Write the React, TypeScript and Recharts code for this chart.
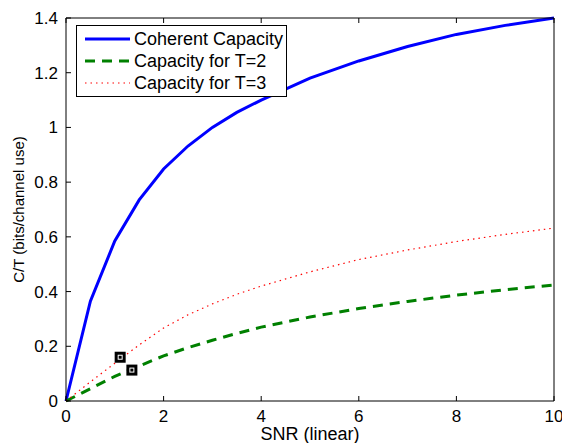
import { ComposedChart, Line, Scatter, XAxis, YAxis, Legend } from "recharts"

// SNR grid (linear) and the three capacity curves
const snr = [0, 0.5, 1, 1.5, 2, 2.5, 3, 3.5, 4, 5, 6, 7, 8, 9, 10]
const coherent = [0, 0.365, 0.585, 0.735, 0.848, 0.932, 1.0, 1.055, 1.1, 1.18, 1.243, 1.296, 1.34, 1.373, 1.4]
const capT2 = [0, 0.045, 0.09, 0.128, 0.165, 0.195, 0.222, 0.247, 0.27, 0.307, 0.338, 0.364, 0.387, 0.407, 0.424]
const capT3 = [0, 0.07, 0.138, 0.205, 0.267, 0.315, 0.355, 0.39, 0.42, 0.472, 0.517, 0.552, 0.583, 0.609, 0.632]

// the two little square markers near the origin
const markSnr = [1.11, 1.35]
const markValue = [0.16, 0.113]

const xTicks = [0, 2, 4, 6, 8, 10]
const yTicks = [0, 0.2, 0.4, 0.6, 0.8, 1, 1.2, 1.4]

const series = [
  { key: "coherent", name: "Coherent Capacity", color: "#0000ff", width: 3, dash: undefined },
  { key: "t2", name: "Capacity for T=2", color: "#008000", width: 3, dash: "10 7" },
  { key: "t3", name: "Capacity for T=3", color: "#ff0000", width: 1.2, dash: "1.5 4" },
]

const data = snr.map((s, i) => ({ snr: s, coherent: coherent[i], t2: capT2[i], t3: capT3[i] }))
const marks = markSnr.map((s, i) => ({ snr: s, mark: markValue[i] }))

const FONT = "'Liberation Sans', Arial, Helvetica, sans-serif"
const TICK = 5

// MATLAB style: tick marks point into the plot box
const BottomTick = ({ x, y, payload }: any) => (
  <g>
    <line x1={x} x2={x} y1={y} y2={y - TICK} stroke="#000" />
    <text x={x} y={y + 21} textAnchor="middle" fontSize={17} fontFamily={FONT} fill="#000">{payload.value}</text>
  </g>
)
const TopTick = ({ x, y }: any) => <line x1={x} x2={x} y1={y} y2={y + TICK} stroke="#000" />
const LeftTick = ({ x, y, payload }: any) => (
  <g>
    <line x1={x} x2={x + TICK} y1={y} y2={y} stroke="#000" />
    <text x={x - 8} y={y + 6} textAnchor="end" fontSize={17} fontFamily={FONT} fill="#000">{payload.value}</text>
  </g>
)
const RightTick = ({ x, y }: any) => <line x1={x} x2={x - TICK} y1={y} y2={y} stroke="#000" />

const SquareMark = ({ cx, cy }: any) => (
  <g>
    <rect x={cx - 5.5} y={cy - 5.5} width={11} height={11} fill="#000" />
    <rect x={cx - 2.5} y={cy - 2.5} width={5} height={5} fill="#fff" />
    <rect x={cx - 1.5} y={cy - 1.5} width={3} height={3} fill="#000" />
  </g>
)

const renderLegend = () => (
  <div style={{ border: "1px solid #000", background: "#fff", padding: "2px 3px 2px 8px", fontFamily: FONT, fontSize: 18, lineHeight: "22px" }}>
    {series.map(s => (
      <div key={s.key} style={{ display: "flex", alignItems: "center", height: 22 }}>
        <svg width={45} height={10} style={{ marginRight: 4 }}>
          <line x1={0} x2={45} y1={5} y2={5} stroke={s.color} strokeWidth={s.width} strokeDasharray={s.dash} />
        </svg>
        <span>{s.name}</span>
      </div>
    ))}
  </div>
)

export default function App() {
  return (
    <div style={{ position: "absolute", left: 0, top: 0, background: "#fff" }}>
      <ComposedChart width={562} height={443} data={data} margin={{ top: 0, right: 0, bottom: 0, left: 0 }}>
        <XAxis xAxisId="b" dataKey="snr" type="number" domain={[0, 10]} ticks={xTicks} height={42}
          axisLine={{ stroke: "#000" }} tickLine={false} tickSize={0} tickMargin={0} tick={<BottomTick />} interval={0}
          label={{ value: "SNR (linear)", position: "insideBottom", offset: 3, fontSize: 18, fontFamily: FONT, fill: "#000" }} />
        <XAxis xAxisId="t" orientation="top" dataKey="snr" type="number" domain={[0, 10]} ticks={xTicks} height={18}
          axisLine={{ stroke: "#000" }} tickLine={false} tickSize={0} tickMargin={0} tick={<TopTick />} interval={0} />
        <YAxis yAxisId="l" type="number" domain={[0, 1.4]} ticks={yTicks} width={66}
          axisLine={{ stroke: "#000" }} tickLine={false} tickSize={0} tickMargin={0} tick={<LeftTick />} interval={0}
          label={{ value: "C/T (bits/channel use)", angle: -90, position: "insideLeft", offset: 19, fontSize: 15, fontFamily: FONT, fill: "#000", style: { textAnchor: "middle" } }} />
        <YAxis yAxisId="r" orientation="right" type="number" domain={[0, 1.4]} ticks={yTicks} width={8}
          axisLine={{ stroke: "#000" }} tickLine={false} tickSize={0} tickMargin={0} tick={<RightTick />} interval={0} />
        {series.map(s => (
          <Line key={s.key} xAxisId="b" yAxisId="l" type="linear" dataKey={s.key} name={s.name}
            stroke={s.color} strokeWidth={s.width} strokeDasharray={s.dash} dot={false} isAnimationActive={false} />
        ))}
        <Scatter xAxisId="b" yAxisId="l" data={marks} dataKey="mark" shape={<SquareMark />} isAnimationActive={false} />
        <Legend layout="vertical" align="center" verticalAlign="middle" content={renderLegend}
          wrapperStyle={{ left: 76, top: 25, width: "auto" }} />
      </ComposedChart>
    </div>
  )
}
